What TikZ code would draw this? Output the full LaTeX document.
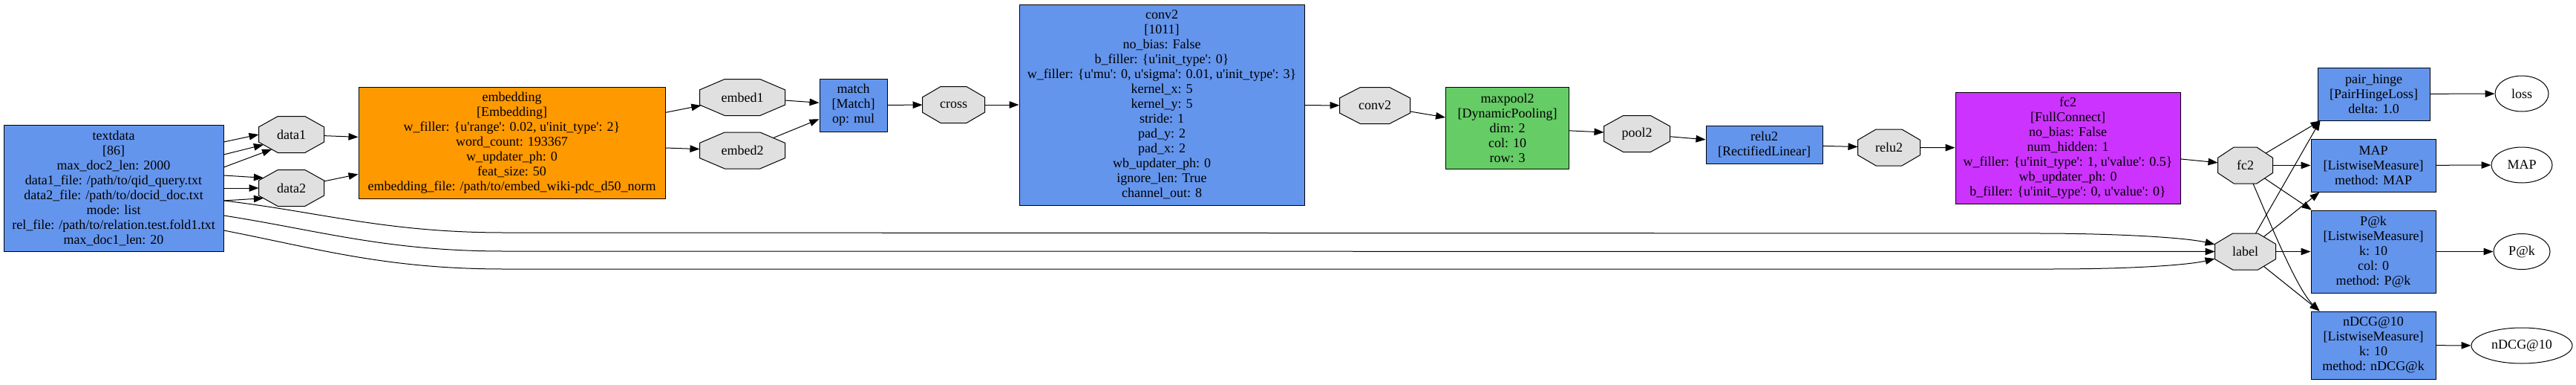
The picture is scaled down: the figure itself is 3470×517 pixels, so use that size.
\documentclass[tikz,border=0pt]{standalone}
\usepackage{fontspec}
\setmainfont{Liberation Serif}[Ligatures=TeXOff]
\usetikzlibrary{shapes.geometric,arrows.meta}
\definecolor{cblue}{HTML}{6495ED}
\definecolor{corange}{HTML}{FF9900}
\definecolor{cgreen}{HTML}{66CC66}
\definecolor{cmag}{HTML}{CC33FF}
\definecolor{cgrey}{HTML}{E0E0E0}
% octagon as graphviz draws it: corners cut by 0.293 of width and height
\makeatletter
\pgfdeclareshape{gvoct}{%
    \inheritsavedanchors[from=rectangle]%
    \inheritanchor[from=rectangle]{center}%
    \inheritanchor[from=rectangle]{north}%
    \inheritanchor[from=rectangle]{south}%
    \inheritanchor[from=rectangle]{east}%
    \inheritanchor[from=rectangle]{west}%
    \inheritanchor[from=rectangle]{text}%
    \inheritanchor[from=rectangle]{mid}%
    \inheritanchor[from=rectangle]{base}%
    \backgroundpath{%
        \southwest \edef\octxa{\the\pgf@x}\edef\octya{\the\pgf@y}%
        \northeast \edef\octxb{\the\pgf@x}\edef\octyb{\the\pgf@y}%
        \pgfmathsetmacro\octdx{0.293*(\octxb-\octxa)}%
        \pgfmathsetmacro\octdy{0.293*(\octyb-\octya)}%
        \pgfpathmoveto{\pgfpoint{\octxa+\octdx}{\octyb}}%
        \pgfpathlineto{\pgfpoint{\octxb-\octdx}{\octyb}}%
        \pgfpathlineto{\pgfpoint{\octxb}{\octyb-\octdy}}%
        \pgfpathlineto{\pgfpoint{\octxb}{\octya+\octdy}}%
        \pgfpathlineto{\pgfpoint{\octxb-\octdx}{\octya}}%
        \pgfpathlineto{\pgfpoint{\octxa+\octdx}{\octya}}%
        \pgfpathlineto{\pgfpoint{\octxa}{\octya+\octdy}}%
        \pgfpathlineto{\pgfpoint{\octxa}{\octyb-\octdy}}%
        \pgfpathclose
    }%
    \anchorborder{%
        \edef\octdirx{\the\pgf@x}\edef\octdiry{\the\pgf@y}%
        \southwest \edef\octxa{\the\pgf@x}\edef\octya{\the\pgf@y}%
        \northeast \edef\octxb{\the\pgf@x}\edef\octyb{\the\pgf@y}%
        \pgfmathsetmacro\octha{(\octxb-\octxa)/2}%
        \pgfmathsetmacro\octhb{(\octyb-\octya)/2}%
        \pgfmathsetmacro\octcx{(\octxb+\octxa)/2}%
        \pgfmathsetmacro\octcy{(\octyb+\octya)/2}%
        \pgfpointborderrectangle{\pgfpoint{\octdirx}{\octdiry}}{\pgfpoint{\octha}{\octhb}}%
        \edef\octpx{\the\pgf@x}\edef\octpy{\the\pgf@y}%
        \pgfmathsetmacro\octf{min(1,1.414/(abs(\octpx)/\octha+abs(\octpy)/\octhb))}%
        \pgfmathsetlength\pgf@x{\octf*\octpx+\octcx}%
        \pgfmathsetlength\pgf@y{\octf*\octpy+\octcy}%
    }%
}
\makeatother
\tikzset{% 
    blk/.style={rectangle,draw=black,line width=1pt,inner sep=0pt,align=center,fill=cblue,font=\fontsize{18}{20}\selectfont},
    oct/.style={gvoct,draw=black,line width=1pt,inner sep=0pt,fill=cgrey,minimum height=48pt,minimum width=#1,font=\fontsize{18}{20}\selectfont},
    ell/.style={ellipse,draw=black,line width=1pt,inner sep=0pt,minimum height=48pt,font=\fontsize{18}{20}\selectfont},
    lnk/.style={line width=1pt,-{Triangle[length=13pt,width=9.5pt]}}
}
\begin{document}
\begin{tikzpicture}[x=1pt,y=-1pt]
        \useasboundingbox (0,0) rectangle (3470,517);

        \node[blk,minimum width=296pt,minimum height=170pt] (textdata) at (153,253) {textdata\\ {[86]}\\ max\_doc2\_len: 2000\\ data1\_file: /path/to/qid\_query.txt\\ data2\_file: /path/to/docid\_doc.txt\\ mode: list\\ rel\_file: /path/to/relation.test.fold1.txt\\ max\_doc1\_len: 20};
        \node[oct=87pt] (data1) at (392.5,181) {data1};
        \node[oct=87pt] (data2) at (392.5,253) {data2};
        \node[blk,fill=corange,minimum width=413pt,minimum height=150pt] (embedding) at (689.5,192) {embedding\\ {[Embedding]}\\ w\_filler: \{u'range': 0.02, u'init\_type': 2\}\\ word\_count: 193367\\ w\_updater\_ph: 0\\ feat\_size: 50\\ embedding\_file: /path/to/embed\_wiki-pdc\_d50\_norm};
        \node[oct=114pt] (embed1) at (1000,131) {embed1};
        \node[oct=114pt] (embed2) at (1000,202.5) {embed2};
        \node[blk,minimum width=91pt,minimum height=71pt] (match) at (1149.5,141.5) {match\\ {[Match]}\\ op: mul};
        \node[oct=83pt] (cross) at (1284.5,141) {cross};
        \node[blk,minimum width=384pt,minimum height=270pt] (conv2box) at (1565,141) {conv2\\ {[1011]}\\ no\_bias: False\\ b\_filler: \{u'init\_type': 0\}\\ w\_filler: \{u'mu': 0, u'sigma': 0.01, u'init\_type': 3\}\\ kernel\_x: 5\\ kernel\_y: 5\\ stride: 1\\ pad\_y: 2\\ pad\_x: 2\\ wb\_updater\_ph: 0\\ ignore\_len: True\\ channel\_out: 8};
        \node[oct=94pt] (conv2) at (1852,142) {conv2};
        \node[blk,fill=cgreen,minimum width=166pt,minimum height=110pt] (maxpool2) at (2030.5,172) {maxpool2\\ {[DynamicPooling]}\\ dim: 2\\ col: 10\\ row: 3};
        \node[oct=88pt] (pool2) at (2205,180) {pool2};
        \node[blk,minimum width=157pt,minimum height=51pt] (relu2box) at (2376.5,194.5) {relu2\\ {[RectifiedLinear]}};
        \node[oct=83pt] (relu2) at (2544.5,198.5) {relu2};
        \node[blk,fill=cmag,minimum width=303pt,minimum height=150pt] (fc2box) at (2785.5,199) {fc2\\ {[FullConnect]}\\ no\_bias: False\\ num\_hidden: 1\\ w\_filler: \{u'init\_type': 1, u'value': 0.5\}\\ wb\_updater\_ph: 0\\ b\_filler: \{u'init\_type': 0, u'value': 0\}};
        \node[oct=73pt] (fc2) at (3024.5,222.5) {fc2};
        \node[oct=81pt] (label) at (3024.5,338.5) {label};

        \node[blk,minimum width=151pt,minimum height=71pt] (pairhinge) at (3197.5,126.5) {pair\_hinge\\ {[PairHingeLoss]}\\ delta: 1.0};
        \node[blk,minimum width=168pt,minimum height=71pt] (mapbox) at (3197,222.5) {MAP\\ {[ListwiseMeasure]}\\ method: MAP};
        \node[blk,minimum width=168pt,minimum height=111pt] (pkbox) at (3197,338.5) {P@k\\ {[ListwiseMeasure]}\\ k: 10\\ col: 0\\ method: P@k};
        \node[blk,minimum width=168pt,minimum height=91pt] (ndcgbox) at (3197,464.5) {nDCG@10\\ {[ListwiseMeasure]}\\ k: 10\\ method: nDCG@k};

        \node[ell,minimum width=72pt] (loss) at (3397,126) {loss};
        \node[ell,minimum width=82pt] (mapout) at (3397,222) {MAP};
        \node[ell,minimum width=76pt] (pkout) at (3397,338.5) {P@k};
        \node[ell,minimum width=136pt] (ndcgout) at (3397,465) {nDCG@10};

        \draw[lnk] ([yshift=62pt]textdata.east) -- (data1.west);
        \draw[lnk] ([yshift=45pt]textdata.east) -- (data1.200);
        \draw[lnk] ([yshift=28pt]textdata.east) -- (data1.217);
        \draw[lnk] ([yshift=17pt]textdata.east) -- (data2.160);
        \draw[lnk] (textdata.east) -- (data2.west);
        \draw[lnk] ([yshift=-17pt]textdata.east) -- (data2.200);
        \draw[lnk] ([yshift=-17pt]textdata.east) .. controls (430,285) and (520,313) .. (680,313) -- (2760,314) .. controls (2880,315) and (2950,321) .. (label);
        \draw[lnk] ([yshift=-37pt]textdata.east) .. controls (430,310) and (520,338) .. (680,338) -- (label);
        \draw[lnk] ([yshift=-57pt]textdata.east) .. controls (430,335) and (520,362) .. (680,362) -- (2760,362) .. controls (2880,362) and (2950,356) .. (label);

        \draw[lnk] (data1) -- (embedding);
        \draw[lnk] (data2) -- (embedding);
        \draw[lnk] (embedding) -- (embed1);
        \draw[lnk] (embedding) -- (embed2);
        \draw[lnk] (embed1) -- (match);
        \draw[lnk] (embed2) -- (match);
        \draw[lnk] (match) -- (cross);
        \draw[lnk] (cross) -- (conv2box);
        \draw[lnk] (conv2box) -- (conv2);
        \draw[lnk] (conv2) -- (maxpool2);
        \draw[lnk] (maxpool2) -- (pool2);
        \draw[lnk] (pool2) -- (relu2box);
        \draw[lnk] (relu2box) -- (relu2);
        \draw[lnk] (relu2) -- (fc2box);
        \draw[lnk] (fc2box) -- (fc2);

        \draw[lnk] (fc2) -- ([xshift=4pt]pairhinge.south west);
        \draw[lnk] (fc2) -- (mapbox);
        \draw[lnk] (fc2) -- (pkbox);
        \draw[lnk] (fc2) .. controls (3062,310) and (3095,390) .. ([xshift=12pt]ndcgbox.north west);
        \draw[lnk] (label) -- ([xshift=4pt]pairhinge.south west);
        \draw[lnk] (label) -- ([xshift=12pt]mapbox.south west);
        \draw[lnk] (label) -- (pkbox);
        \draw[lnk] (label) -- ([xshift=12pt]ndcgbox.north west);

        \draw[lnk] (pairhinge) -- (loss);
        \draw[lnk] (mapbox) -- (mapout);
        \draw[lnk] (pkbox) -- (pkout);
        \draw[lnk] (ndcgbox) -- (ndcgout);
    \end{tikzpicture}
\end{document}
